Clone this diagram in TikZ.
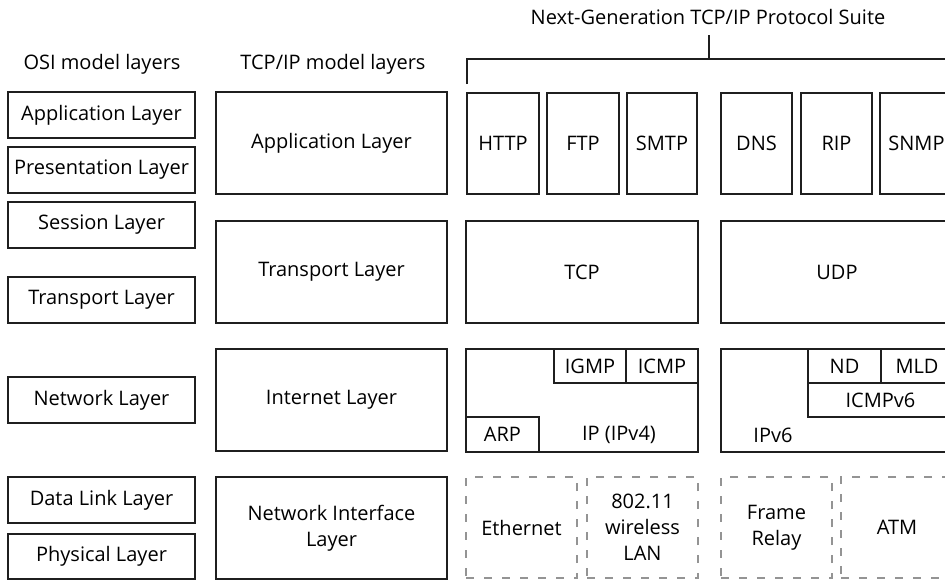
\documentclass[tikz,border=0pt]{standalone}
\usepackage{fontspec}
\setmainfont{Open Sans}
\newcommand{\layerbox}[6]{\node[layer, minimum width={#4-#2}, minimum height={#5-#3}] (#1) at ({(#2+#4)/2}, {(#3+#5)/2}) {#6}}
\newcommand{\linkbox}[6]{\node[linklayer, minimum width={#4-#2}, minimum height={#5-#3}] (#1) at ({(#2+#4)/2}, {(#3+#5)/2}) {#6}}
\tikzset{
  txt/.style={inner sep=1pt, align=center, font=\fontsize{20}{26}\selectfont},
  layer/.style={txt, draw=black!88, line width=1.8pt},
  linklayer/.style={txt, draw=black!42, line width=2pt, dash pattern=on 8pt off 10pt}
}

\begin{document}
\begin{tikzpicture}[x=1pt, y=-1pt]
                    \useasboundingbox (0,0) rectangle (945,582);

                    \node[txt] (osihead) at (102,64) {OSI model layers};
                    \node[txt] (tcphead) at (333,64) {TCP/IP model layers};
                    \node[txt] (suite) at (708,17) {Next-Generation TCP/IP Protocol Suite};

                    \layerbox{osiapp}{8}{92}{195}{138}{Application Layer};
                    \layerbox{osipres}{8}{147}{195}{193}{Presentation Layer};
                    \layerbox{osisess}{8}{202}{195}{248}{Session Layer};
                    \layerbox{ositrans}{8}{277}{195}{323}{Transport Layer};
                    \layerbox{osinet}{8}{377}{195}{423}{Network Layer};
                    \layerbox{osidata}{8}{477}{195}{523}{Data Link Layer};
                    \layerbox{osiphys}{8}{534}{195}{579}{Physical Layer};

                    \layerbox{tcpapp}{216}{92}{447}{194}{Application Layer};
                    \layerbox{tcptrans}{216}{221}{447}{323}{Transport Layer};
                    \layerbox{tcpinet}{216}{349}{447}{451}{Internet Layer};
                    \layerbox{tcpnetif}{216}{477}{447}{579}{Network Interface\\Layer};

                    \layerbox{http}{467}{93}{539}{194}{HTTP};
                    \layerbox{ftp}{547}{93}{619}{194}{FTP};
                    \layerbox{smtp}{627}{93}{697}{194}{SMTP};
                    \layerbox{dns}{721}{93}{792}{194}{DNS};
                    \layerbox{rip}{801}{93}{872}{194}{RIP};
                    \layerbox{snmp}{880}{93}{953}{194}{SNMP};

                    \layerbox{tcp}{466}{221}{698}{323}{TCP};
                    \layerbox{udp}{721}{221}{953}{323}{UDP};

                    \layerbox{ipv4}{466}{349}{698}{452}{};
                    \layerbox{igmp}{554}{349}{626}{383}{IGMP};
                    \layerbox{icmp}{626}{349}{698}{383}{ICMP};
                    \layerbox{arp}{466}{417}{539}{452}{ARP};
                    \node[txt] (ipv4txt) at (619,435) {IP (IPv4)};

                    \layerbox{ipv6}{721}{349}{953}{452}{};
                    \layerbox{nd}{808}{349}{881}{383}{ND};
                    \layerbox{mld}{881}{349}{953}{383}{MLD};
                    \layerbox{icmpv6}{808}{383}{953}{417}{ICMPv6};
                    \node[txt] (ipv6txt) at (773,435) {IPv6};

                    \linkbox{eth}{466}{477}{577}{578}{Ethernet};
                    \linkbox{wlan}{587}{477}{698}{578}{802.11\\wireless\\LAN};
                    \linkbox{frame}{721}{477}{832}{578}{Frame\\Relay};
                    \linkbox{atm}{841}{477}{953}{578}{ATM};

                    \coordinate (brtop) at (709,35);
                    \coordinate (brmid) at (709,59);
                    \coordinate (brleft) at (467,84);
                    \coordinate (brright) at (953,84);
                    \draw[line width=1.8pt, draw=black!88] (brtop) -- (brmid);
                    \draw[line width=1.8pt, draw=black!88] (brleft) |- (brmid) -| (brright);
                \end{tikzpicture}
\end{document}
